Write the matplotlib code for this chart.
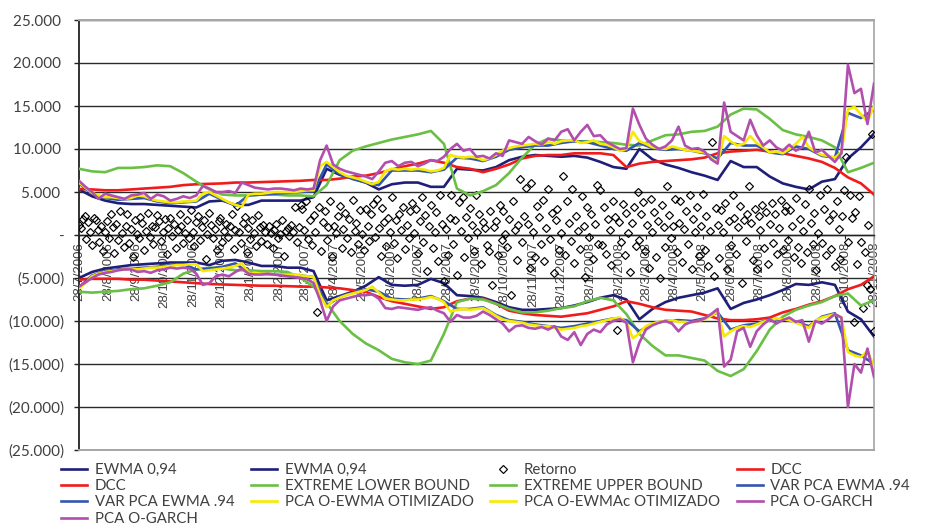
import numpy as np
import pandas as pd
import matplotlib
matplotlib.use("Agg")
import matplotlib.pyplot as plt
import matplotlib.dates as mdates
from matplotlib.ticker import FuncFormatter, FixedLocator

start = pd.Timestamp("2006-07-28")
end = pd.Timestamp("2008-11-28")

# ---- volatility bands sampled every two weeks ----
ewma_up = [5.3, 4.5, 4.0, 3.7, 3.6, 3.6, 3.5, 3.4, 3.3, 3.2, 3.9, 4.0, 3.5, 3.5, 4.0, 4.0,
           4.0, 4.0, 4.4, 7.7, 7.0, 6.6, 6.1, 5.3, 5.9, 6.1, 6.1, 5.6, 5.6, 7.7, 7.6, 7.5,
           7.9, 8.7, 9.1, 9.3, 9.2, 9.1, 9.2, 9.0, 8.5, 7.9, 7.7, 10.0, 8.8, 8.2, 7.8, 7.3,
           6.9, 6.4, 8.6, 7.9, 7.9, 6.8, 6.0, 5.6, 5.3, 6.2, 6.5, 8.9, 10.2, 11.8]
ewma_lo = [-5.0, -4.3, -3.9, -3.7, -3.5, -3.4, -3.3, -3.2, -3.2, -3.2, -3.5, -3.0, -2.9, -3.2,
           -3.6, -3.6, -3.8, -3.8, -4.2, -7.6, -7.1, -6.6, -5.9, -4.9, -5.8, -5.9, -5.8, -5.1,
           -5.6, -7.0, -7.1, -7.3, -7.8, -8.4, -8.7, -8.7, -8.6, -8.5, -8.2, -7.8, -7.3, -7.0,
           -7.5, -9.8, -8.6, -7.8, -7.3, -7.0, -6.7, -6.2, -8.6, -7.9, -7.5, -7.0, -6.4, -5.7,
           -5.8, -5.5, -5.8, -8.9, -9.8, -11.8]
dcc_up = [5.35, 5.3, 5.2, 5.2, 5.3, 5.4, 5.5, 5.6, 5.8, 5.9, 5.95, 6.0, 6.1, 6.1, 6.15, 6.2,
          6.25, 6.3, 6.4, 6.4, 6.55, 6.8, 6.9, 7.2, 7.6, 8.0, 8.3, 8.7, 8.4, 7.9, 7.7, 7.3,
          7.7, 8.2, 8.9, 9.2, 9.3, 9.3, 9.5, 9.5, 9.5, 9.3, 7.9, 8.3, 8.5, 8.6, 8.7, 8.8,
          9.0, 9.5, 9.7, 9.8, 9.9, 9.7, 9.5, 9.2, 8.9, 8.5, 7.8, 6.7, 6.0, 4.7]
dcc_lo = [-5.2, -5.1, -5.1, -5.1, -5.2, -5.2, -5.3, -5.4, -5.5, -5.6, -5.7, -5.75, -5.8, -5.85,
          -5.9, -5.9, -5.95, -6.0, -6.0, -6.1, -6.2, -6.4, -6.6, -7.2, -7.7, -8.0, -8.3, -8.6,
          -8.4, -7.7, -7.4, -7.4, -8.0, -8.8, -9.1, -9.3, -9.4, -9.5, -9.3, -9.1, -8.7, -8.3,
          -7.7, -8.0, -8.4, -8.7, -8.8, -8.9, -9.3, -9.7, -9.9, -9.9, -9.8, -9.6, -9.0, -8.6,
          -8.1, -7.7, -7.1, -6.3, -5.8, -4.8]
extreme_lo = [-6.6, -6.7, -6.6, -6.5, -6.3, -6.2, -5.9, -5.5, -4.5, -4.0, -3.8, -3.9, -4.1,
              -4.1, -4.2, -4.2, -4.3, -5.0, -6.0, -7.9, -10.0, -11.5, -12.6, -13.4, -14.4,
              -14.8, -15.0, -14.6, -11.5, -7.8, -7.4, -7.5, -8.0, -8.6, -9.0, -9.0, -8.8,
              -8.5, -8.3, -7.7, -7.3, -7.6, -9.2, -11.5, -12.9, -14.0, -14.0, -14.3, -14.6,
              -15.8, -16.4, -15.6, -13.5, -11.0, -9.5, -8.7, -8.2, -7.8, -7.1, -6.8, -8.2, -7.6]
extreme_up = [7.7, 7.4, 7.3, 7.8, 7.8, 7.9, 8.1, 8.0, 7.2, 6.2, 5.3, 4.7, 4.6, 4.6, 4.7, 4.7,
              4.6, 4.6, 4.5, 5.8, 8.7, 9.8, 10.3, 10.7, 11.1, 11.4, 11.7, 12.1, 10.6, 5.4, 4.6,
              5.1, 5.8, 7.2, 9.0, 10.5, 11.2, 11.0, 10.9, 10.9, 10.8, 10.7, 10.5, 10.4, 11.0,
              11.6, 11.7, 12.0, 12.1, 12.6, 14.0, 14.7, 14.6, 13.5, 12.2, 11.7, 11.4, 11.0,
              10.2, 7.3, 7.8, 8.4]
varpca_up = [6.0, 4.8, 4.3, 4.1, 4.2, 4.3, 3.9, 3.7, 3.8, 3.9, 4.8, 4.1, 3.4, 4.6, 4.7, 4.8,
             4.9, 5.0, 5.1, 8.2, 7.1, 6.5, 6.1, 5.8, 7.5, 7.5, 7.5, 7.3, 7.6, 9.0, 8.9, 8.6,
             9.1, 9.9, 10.2, 10.4, 10.4, 10.7, 10.9, 10.8, 10.4, 10.0, 9.8, 10.7, 10.1, 9.9,
             10.0, 9.8, 9.5, 8.9, 10.7, 10.4, 10.4, 9.6, 9.4, 10.3, 10.0, 9.2, 9.0, 14.2, 13.6, 14.6]
varpca_lo = [-6.1, -4.7, -4.2, -4.0, -3.9, -3.8, -3.7, -3.5, -3.4, -4.0, -3.9, -3.7, -3.3,
             -4.4, -4.5, -4.6, -4.6, -4.7, -4.9, -8.2, -7.2, -6.7, -6.3, -6.6, -7.4, -7.5,
             -7.4, -7.1, -7.7, -8.6, -8.6, -8.4, -9.3, -9.9, -10.1, -10.4, -10.6, -10.8,
             -10.6, -10.3, -10.0, -9.7, -9.9, -11.2, -10.3, -10.0, -9.9, -10.0, -9.7, -9.0,
             -11.0, -10.5, -10.3, -9.8, -9.8, -10.1, -10.6, -9.5, -9.1, -13.4, -14.0, -15.0]

# ---- optimised PCA bands sampled weekly ----
oewma_up = [6.1, 5.5, 4.9, 4.6, 4.4, 4.4, 4.3, 4.2, 4.3, 4.6, 4.5, 4.2, 4.0, 3.9, 3.8, 3.8,
            3.9, 3.9, 4.0, 4.8, 5.0, 4.6, 4.2, 3.8, 3.5, 3.3, 4.7, 4.8, 4.8, 4.9, 5.0, 5.0,
            5.0, 5.0, 5.1, 5.2, 5.2, 8.0, 8.5, 7.9, 7.3, 6.9, 6.7, 6.5, 6.2, 5.9, 6.2, 7.4,
            7.7, 7.6, 7.7, 7.6, 7.7, 7.6, 7.4, 7.5, 7.8, 9.3, 9.1, 9.0, 9.1, 9.0, 8.7, 8.9,
            9.3, 9.8, 10.1, 10.3, 10.4, 10.5, 10.6, 10.5, 10.8, 10.6, 10.9, 11.0, 11.0, 10.7,
            10.8, 11.0, 10.6, 10.5, 10.2, 9.8, 10.0, 12.0, 10.9, 10.6, 10.2, 10.1, 10.0, 10.3,
            10.1, 9.9, 9.8, 9.7, 9.6, 9.0, 8.4, 11.5, 10.9, 10.4, 10.6, 11.5, 10.7, 10.2, 9.6,
            9.7, 9.5, 10.0, 10.6, 11.4, 10.2, 9.7, 9.3, 9.2, 9.0, 9.6, 14.6, 14.9, 14.0, 13.2, 15.0]
oewmac_lo = [-6.2, -5.6, -4.8, -4.5, -4.3, -4.2, -4.1, -4.0, -3.9, -4.0, -3.9, -3.8, -3.8,
             -3.7, -3.6, -3.5, -3.5, -3.4, -3.4, -4.2, -4.1, -4.0, -3.9, -3.8, -3.6, -3.3,
             -4.4, -4.4, -4.5, -4.5, -4.6, -4.6, -4.6, -4.6, -4.7, -4.8, -4.9, -7.0, -8.4,
             -7.6, -7.3, -7.0, -6.8, -6.6, -6.4, -6.0, -6.7, -7.4, -7.5, -7.6, -7.6, -7.5,
             -7.5, -7.4, -7.2, -7.4, -7.8, -8.9, -8.7, -8.6, -8.7, -8.6, -8.5, -8.9, -9.4,
             -9.8, -10.0, -10.1, -10.2, -10.4, -10.5, -10.6, -10.6, -10.8, -11.0, -10.9,
             -10.8, -10.6, -10.5, -10.3, -10.1, -9.9, -9.7, -9.6, -10.2, -12.0, -11.4, -10.6,
             -10.3, -10.1, -10.0, -9.9, -10.1, -10.1, -10.2, -10.0, -9.8, -9.4, -8.9, -11.8,
             -11.2, -10.8, -10.6, -10.7, -10.4, -10.1, -9.9, -9.7, -9.8, -9.9, -10.2, -10.5,
             -10.8, -10.0, -9.6, -9.4, -9.2, -9.6, -13.6, -14.0, -14.2, -13.5, -15.3]
ogarch_up = [6.3, 5.6, 5.0, 4.2, 4.8, 4.6, 4.4, 4.2, 4.6, 4.7, 4.9, 4.2, 4.7, 4.5, 4.0, 4.2,
             4.5, 4.3, 4.6, 5.7, 5.4, 5.0, 5.0, 5.1, 4.9, 6.1, 5.8, 5.5, 5.4, 5.3, 5.4, 5.4,
             5.3, 5.2, 5.4, 5.3, 5.4, 8.7, 10.4, 8.2, 7.7, 7.4, 7.2, 7.0, 6.8, 6.5, 7.4, 8.4,
             8.6, 8.0, 8.4, 8.5, 8.0, 8.3, 8.7, 8.6, 9.1, 10.0, 10.6, 9.8, 10.0, 9.1, 9.2, 8.9,
             9.5, 9.2, 11.0, 10.8, 10.6, 11.4, 10.9, 10.5, 11.2, 11.0, 12.0, 12.3, 11.0, 12.0,
             12.8, 11.5, 11.6, 10.8, 10.4, 10.0, 10.1, 14.7, 12.8, 11.2, 10.5, 10.0, 10.3, 11.0,
             12.6, 10.4, 10.0, 10.1, 9.7, 8.8, 8.3, 15.4, 12.0, 11.5, 11.0, 13.4, 11.6, 10.4,
             11.0, 10.2, 9.8, 10.5, 9.8, 10.2, 12.0, 9.6, 9.9, 9.2, 8.5, 9.5, 19.8, 16.5, 17.0,
             12.9, 17.6]
ogarch_lo = [-6.0, -5.5, -5.0, -4.6, -4.4, -4.3, -4.1, -4.0, -4.0, -4.3, -4.2, -4.4, -4.1,
             -4.0, -3.8, -3.9, -3.8, -3.9, -4.5, -5.8, -5.6, -4.8, -4.6, -4.8, -4.3, -3.9,
             -4.5, -4.6, -4.6, -4.5, -4.6, -4.7, -4.8, -4.9, -5.0, -5.1, -5.6, -7.6, -10.0,
             -8.3, -7.6, -7.4, -7.2, -7.0, -7.0, -6.9, -7.4, -8.5, -8.6, -8.4, -8.5, -8.6,
             -8.7, -8.5, -8.4, -8.8, -9.1, -10.1, -9.3, -9.6, -9.6, -9.4, -8.9, -9.3, -9.8,
             -10.3, -11.2, -10.6, -10.5, -10.8, -10.9, -10.7, -11.0, -10.6, -11.8, -12.2,
             -11.3, -12.8, -11.5, -11.0, -11.3, -10.4, -10.0, -9.8, -10.2, -14.8, -12.5,
             -11.0, -10.5, -10.2, -10.0, -10.3, -11.2, -10.4, -10.1, -10.0, -9.7, -9.2, -8.6,
             -15.3, -14.5, -11.2, -10.8, -13.0, -11.2, -10.4, -9.8, -10.3, -9.9, -9.6, -10.1,
             -9.9, -12.4, -10.0, -10.3, -9.8, -9.2, -9.6, -20.0, -15.0, -16.0, -13.2, -16.5]

# ---- daily return observations, one every two days ----
retorno = [
    1.2, 0.8, 1.9, 2.2, -0.5, 1.5, 0.3, -1.2, 2.0, 1.7, 0.6, -0.8, 1.1, -1.9, 0.4, 1.6, -0.3, 2.4, 0.9, -2.1,
    1.3, -0.6, 2.8, 0.2, -1.4, 1.0, 2.5, -0.9, 0.7, -2.6, 1.8, 0.1, -0.4, 2.1, 1.4, -1.7, 0.5, 2.6, -0.2, 1.1,
    -1.1, 0.9, 2.3, 1.6, -0.7, 0.3, 1.9, -2.2, 0.8, 2.0, -0.1, 1.3, -1.5, 0.6, 2.4, 1.0, -0.9, 0.2, 1.7, -0.4,
    2.9, 0.4, -1.3, 1.5, 2.2, -0.6, 0.9, 1.8, -2.8, 0.1, 2.6, 1.2, -0.3, 0.7, -1.8, 1.6, 2.0, -0.8, 0.5, 1.3,
    -0.2, 1.1, 2.5, -1.6, 0.6, 3.4, 0.3, -0.9, 1.4, 2.1, -2.0, 0.8, -0.5, 1.7, 0.2, -1.3, 2.3, 0.9, -0.7, 1.2,
    0.4, -1.0, 1.0, 0.2, -1.5, 0.6, 1.3, -0.4, 0.1, 1.8, -2.4, 0.5, 0.8, -0.1, 1.2, 0.3, 3.2, -0.8, 0.9, 3.5,
    3.0, 0.6, 4.0, -0.5, 1.8, -1.2, 2.3, 0.4, -8.9, 3.2, -1.9, 1.5, 2.8, -0.6, 0.9, 3.9, -2.5, 1.1, 0.2, 2.2,
    3.4, -1.5, 0.7, 2.6, -0.3, 1.9, -2.0, 4.1, 0.5, 1.4, -1.1, 2.9, 0.1, -1.8, 3.0, 1.0, -0.7, 2.4, 3.6, -0.2,
    4.2, 0.8, -2.4, 3.1, 1.5, -1.3, 2.0, 0.3, 4.4, -0.9, 1.7, -2.7, 2.5, 0.6, 3.3, -1.6, 1.2, -0.4, 2.8, 3.7,
    0.2, 3.0, -2.1, 1.6, 4.4, -0.8, 2.3, -4.2, 1.0, 3.5, -1.5, 0.4, 2.7, -3.0, 4.6, 1.3, -5.4, 0.7, -2.3, 2.0,
    4.6, -1.0, 1.8, -4.6, 3.8, 0.5, 4.4, -2.6, 2.1, -0.3, 3.1, 1.2, -1.9, 4.6, 0.3, 2.5, -3.4, 1.5, 0.8, -1.2,
    -1.9, 2.8, -5.8, 0.9, 1.6, -2.3, 3.5, -0.6, 2.8, 0.1, -1.4, 1.9, -7.0, 3.9, 0.6, -2.9, 1.2, 6.5, -0.8, 2.2,
    5.5, 1.3, -3.8, 6.1, 0.4, -2.5, 3.4, 2.1, -1.1, 4.1, -3.0, 0.8, 5.35, -0.5, 2.6, -4.4, 1.7, 3.0, -1.8, 0.2,
    6.9, -2.3, 3.9, 1.4, -0.7, 5.4, -3.3, 2.2, 0.5, -1.6, 4.5, 1.1, -4.9, 3.2, -0.2, 2.4, -2.8, 1.3, 5.8, -1.0,
    5.2, -1.2, 3.3, -2.2, 1.9, 0.6, -3.5, 4.0, 2.1, -11.0, 1.5, -0.8, 3.6, -2.3, 2.6, 0.2, -4.3, 1.4, 3.2, -1.3,
    5.0, -0.6, 2.5, 3.8, -1.9, 1.2, -3.8, 4.2, 0.4, 2.7, -2.6, 1.6, -5.0, 3.5, 0.9, -1.4, 5.7, 2.3, -0.3, 1.1,
    4.2, -2.0, 1.4, 3.9, -3.1, 0.7, 2.8, -1.1, 4.6, -4.0, 1.9, 0.3, 3.3, -2.4, 1.0, 4.8, -1.7, 2.2, -3.6, 0.5,
    10.8, -4.8, 3.1, 1.2, -2.7, 2.9, 0.4, 3.7, -3.9, 1.6, -1.2, 4.6, 2.0, -2.2, 0.9, 3.4, -5.6, 1.8, -0.7, 2.5,
    5.7, 1.4, -2.9, 3.0, -4.0, 2.2, 0.6, 3.5, -1.5, 2.7, -3.4, 1.3, 3.7, -0.9, 2.4, -2.2, 0.8, 4.1, -1.8, 2.8,
    3.4, -0.6, 2.9, 1.1, -2.6, 4.3, -1.4, 1.9, -3.2, 0.5, 3.6, -2.0, 5.3, 1.4, -1.1, 2.6, -4.1, 0.2, 4.7, -0.9,
    3.0, -2.3, 5.3, 1.8, -1.6, 2.5, -3.6, 4.0, 0.7, -2.8, 2.2, 5.2, 9.1, -0.8, 4.6, 2.0, -10.1, 2.7, -3.4, 4.5,
    -0.8, -8.5, -2.0, -5.8, 1.2, -6.3, 11.7, -11.2,
]

y_ticks = [25, 20, 15, 10, 5, 0, -5, -10, -15, -20, -25]

NAVY = "#1f1f7a"
RED = "#f01c1c"
GREEN = "#6abf45"
BLUE = "#3556b0"
YELLOW = "#f7ea00"
MAGENTA = "#b24fae"
TEXT = "#404040"

biweekly = pd.date_range(start, periods=len(ewma_up), freq="14D")
weekly = pd.date_range(start, periods=len(oewma_up), freq="7D")
every2 = pd.date_range(start, periods=len(retorno), freq="2D")

fig = plt.figure(figsize=(9.26, 5.30), dpi=100)
ax = fig.add_axes([79 / 926, 80 / 530, 795 / 926, 430 / 530])

lw = 1.9
h_ewma1, = ax.plot(biweekly, ewma_up, color=NAVY, lw=lw, zorder=3)
h_ewma2, = ax.plot(biweekly, ewma_lo, color=NAVY, lw=lw, zorder=3)
h_ret, = ax.plot(every2, retorno, ls="none", marker="D", ms=4.0, mfc="none",
                 mec="black", mew=0.85, zorder=3.1)
h_dcc1, = ax.plot(biweekly, dcc_up, color=RED, lw=lw, zorder=3.2)
h_dcc2, = ax.plot(biweekly, dcc_lo, color=RED, lw=lw, zorder=3.2)
h_low, = ax.plot(biweekly, extreme_lo, color=GREEN, lw=lw, zorder=3.3)
h_up, = ax.plot(biweekly, extreme_up, color=GREEN, lw=lw, zorder=3.3)
h_var1, = ax.plot(biweekly, varpca_up, color=BLUE, lw=lw, zorder=3.4)
h_var2, = ax.plot(biweekly, varpca_lo, color=BLUE, lw=lw, zorder=3.4)
h_oe1, = ax.plot(weekly, oewma_up, color=YELLOW, lw=lw, zorder=3.5)
h_oe2, = ax.plot(weekly, oewmac_lo, color=YELLOW, lw=lw, zorder=3.5)
h_og1, = ax.plot(weekly, ogarch_up, color=MAGENTA, lw=lw, zorder=3.6)
h_og2, = ax.plot(weekly, ogarch_lo, color=MAGENTA, lw=lw, zorder=3.6)

ax.set_xlim(start, end)
ax.set_ylim(-25, 25)

# y axis
ax.yaxis.set_major_locator(FixedLocator(y_ticks))


def yfmt(v, pos):
    if abs(v) < 1e-9:
        return "-"
    s = f"{abs(v):.3f}"
    return s + " " if v > 0 else f"({s})"


ax.yaxis.set_major_formatter(FuncFormatter(yfmt))
ax.tick_params(axis="y", length=3.5, width=1.0, color="#222222", pad=7,
               labelsize=11, labelcolor=TEXT)
for t in ax.get_yticklabels():
    t.set_fontfamily("Lato")

ax.yaxis.grid(True, color="#2a2a2a", lw=1.0)
ax.set_axisbelow("line")

# x axis runs along zero
ax.spines["bottom"].set_position(("data", 0))
ax.spines["bottom"].set_color("#222222")
ax.spines["bottom"].set_linewidth(1.0)
ax.spines["left"].set_color("#222222")
ax.spines["left"].set_linewidth(1.3)
for side in ("top", "right"):
    ax.spines[side].set_color("#a6a6a6")
    ax.spines[side].set_linewidth(1.2)
ax.axhline(-25, color="#a6a6a6", lw=1.4, zorder=5, clip_on=False)
ax.axhline(25, color="#a6a6a6", lw=1.4, zorder=5, clip_on=False)

ax.xaxis.set_major_locator(mdates.DayLocator(bymonthday=[28]))
ax.xaxis.set_major_formatter(FuncFormatter(
    lambda v, pos: (lambda d: f"{d.day}/{d.month}/{d.year}")(mdates.num2date(v))))
ax.tick_params(axis="x", length=3, width=0.8, color="#222222", pad=2,
               labelsize=9.5, labelcolor=TEXT, rotation=90)
for t in ax.get_xticklabels():
    t.set_fontfamily("Liberation Sans")
    t.set_va("top")
    t.set_ha("center")

# legend, laid out row by row across four columns
handles = [h_ewma1, h_dcc2, h_var2, h_og2,
           h_ewma2, h_low, h_oe1,
           h_ret, h_up, h_oe2,
           h_dcc1, h_var1, h_og1]
labels = ["EWMA 0,94", "DCC", "VAR PCA EWMA .94", "PCA O-GARCH",
          "EWMA 0,94", "EXTREME LOWER BOUND", "PCA O-EWMA OTIMIZADO",
          "Retorno", "EXTREME UPPER BOUND", "PCA O-EWMAc OTIMIZADO",
          "DCC", "VAR PCA EWMA .94", "PCA O-GARCH"]
leg = fig.legend(handles, labels, loc="upper left", bbox_to_anchor=(61 / 926, 1 - 463 / 530),
                 ncol=4, frameon=False, borderpad=0, borderaxespad=0,
                 handlelength=1.75, handletextpad=0.5, columnspacing=1.1,
                 labelspacing=0.15, prop={"family": "Lato", "size": 10.8})
for t in leg.get_texts():
    t.set_color(TEXT)

fig.savefig("out.png", dpi=100)
